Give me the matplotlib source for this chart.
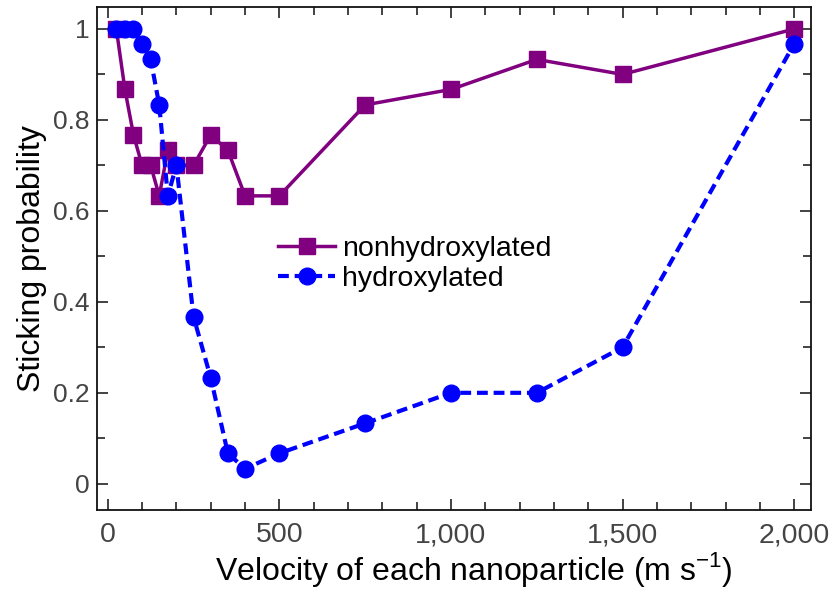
import matplotlib
matplotlib.use("Agg")
import matplotlib.pyplot as plt
from matplotlib.ticker import MultipleLocator, FuncFormatter

plt.rcParams['font.family'] = ['Liberation Sans', 'DejaVu Sans']

# velocity (m/s) and sticking probability
vel_non = [25, 50, 75, 100, 125, 150, 175, 200, 250, 300, 350, 400, 500, 750, 1000, 1250, 1500, 2000]
stick_non = [1.0, 0.867, 0.767, 0.7, 0.7, 0.633, 0.733, 0.7, 0.7, 0.767, 0.733, 0.633, 0.633,
             0.833, 0.867, 0.933, 0.9, 1.0]

vel_hyd = [25, 50, 75, 100, 125, 150, 175, 200, 250, 300, 350, 400, 500, 750, 1000, 1250, 1500, 2000]
stick_hyd = [1.0, 1.0, 1.0, 0.967, 0.933, 0.833, 0.633, 0.7, 0.367, 0.233, 0.067, 0.033, 0.067,
             0.133, 0.2, 0.2, 0.3, 0.967]

fig = plt.figure(figsize=(8.33, 5.92), dpi=100)
ax = fig.add_axes([0.117, 0.139, 0.857, 0.849])

ax.plot(vel_non, stick_non, color="#800080", lw=2.5, marker="s", ms=11,
        label="nonhydroxylated", zorder=2)
ax.plot(vel_hyd, stick_hyd, color="#0000ff", lw=3.0, ls=(0, (2.6, 1.4)), marker="o", ms=12,
        label="hydroxylated", zorder=3)

ax.set_xlim(-30, 2050)
ax.set_ylim(-0.057, 1.048)
ax.xaxis.set_major_locator(MultipleLocator(500))
ax.xaxis.set_minor_locator(MultipleLocator(100))
ax.yaxis.set_major_locator(MultipleLocator(0.2))
ax.yaxis.set_minor_locator(MultipleLocator(0.1))
ax.xaxis.set_major_formatter(FuncFormatter(lambda v, p: f"{int(v):,}"))
ax.yaxis.set_major_formatter(FuncFormatter(lambda v, p: f"{v:g}"))

ax.tick_params(which="both", direction="in", top=True, right=True, width=1.2, color="#222222")
ax.tick_params(which="major", length=8, labelcolor="#444444")
ax.tick_params(which="minor", length=6)
ax.tick_params(axis="x", which="major", labelsize=20.5, pad=9)
ax.tick_params(axis="y", which="major", labelsize=19, pad=6)
for s in ax.spines.values():
    s.set_linewidth(1.3)
    s.set_color("#111111")

ax.set_xlabel("Velocity of each nanoparticle (m s$^{\\mathregular{-1}}$)", fontsize=23)
ax.xaxis.set_label_coords(0.527, -0.08)
ax.set_ylabel("Sticking probability", fontsize=23, labelpad=4)

ax.legend(loc="upper left", bbox_to_anchor=(0.237, 0.568), frameon=False, fontsize=20.5,
          handlelength=2.0, handletextpad=0.25, labelspacing=0.15, borderaxespad=0)

fig.savefig("out.png", dpi=100)
